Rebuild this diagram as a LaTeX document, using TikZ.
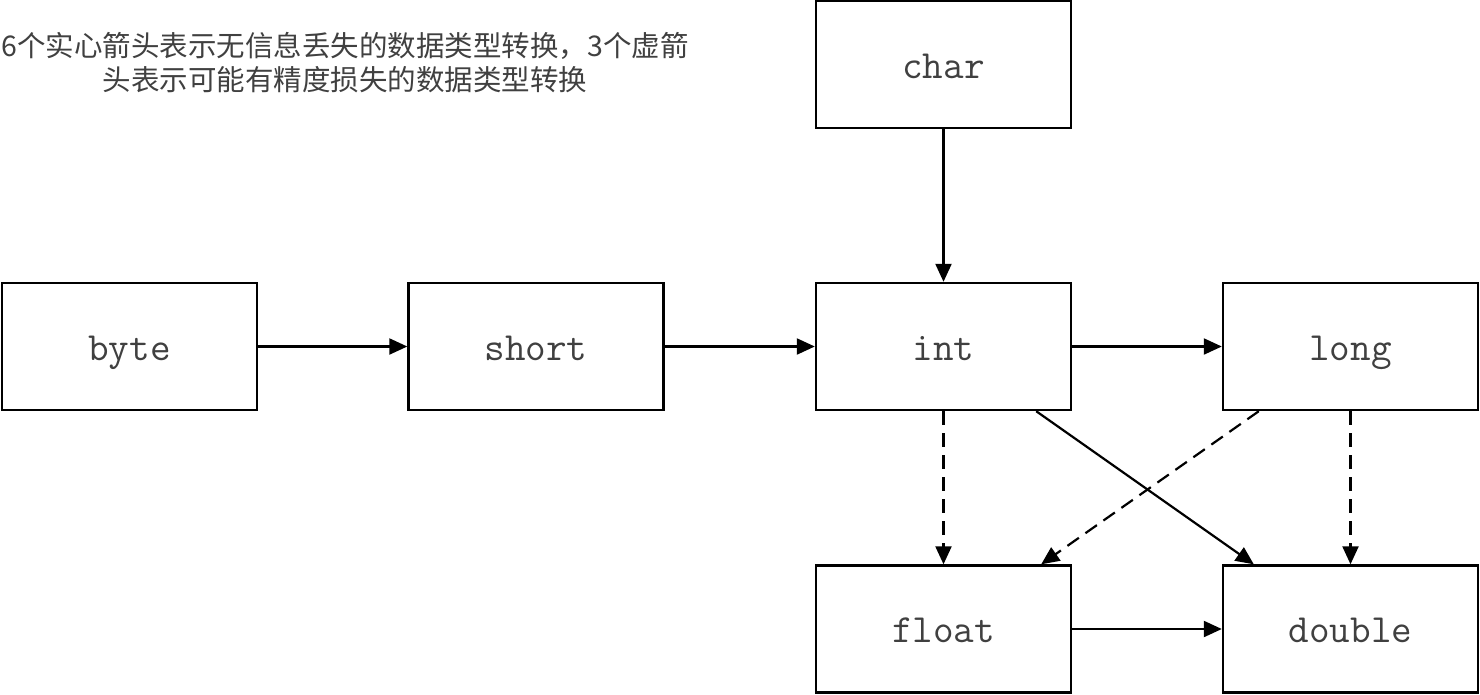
\documentclass[tikz,border=0pt]{standalone}
\usepackage{fontspec}
\newfontfamily\cjk{Noto Sans CJK SC}
\usetikzlibrary{arrows.meta}
\begin{document}
\begin{tikzpicture}[x=1pt,y=-1pt,
  box/.style={draw, line width=2.4pt, minimum width=255pt, minimum height=127pt, inner sep=0pt,
    text height=34pt, text depth=7pt,
    font=\fontsize{40}{40}\selectfont\ttfamily, text=black!75},
  arr/.style={line width=2.2pt, -{Triangle[length=18pt,width=16pt]}},
  dsh/.style={arr, dash pattern=on 14pt off 8pt},
  note/.style={font=\cjk\fontsize{28.5}{34}\selectfont, text=black!75, align=center}]
\useasboundingbox (0,0) rectangle (1480,694);
\node[box] (char) at (943.5,64.5) {char};
\node[box] (byte) at (129.5,346.5) {byte};
\node[box] (short) at (536,346.5) {short};
\node[box] (int) at (943.5,346.5) {int};
\node[box] (long) at (1350.5,346.5) {long};
\node[box] (float) at (943.5,629) {float};
\node[box] (double) at (1350.5,629) {double};
\node[note] (txt) at (345,63) {6个实心箭头表示无信息丢失的数据类型转换，3个虚箭\\头表示可能有精度损失的数据类型转换};
\draw[arr] (char) -- (int);
\draw[arr] (byte) -- (short);
\draw[arr] (short) -- (int);
\draw[arr] (int) -- (long);
\draw[dsh] (int) -- (float);
\draw[dsh] ([xshift=37pt]long.south west) -- ([xshift=-31pt]float.north east);
\draw[arr] ([xshift=-36pt]int.south east) -- ([xshift=32pt]double.north west);
\draw[dsh] (long) -- (double);
\draw[arr] (float) -- (double);
\end{tikzpicture}
\end{document}
